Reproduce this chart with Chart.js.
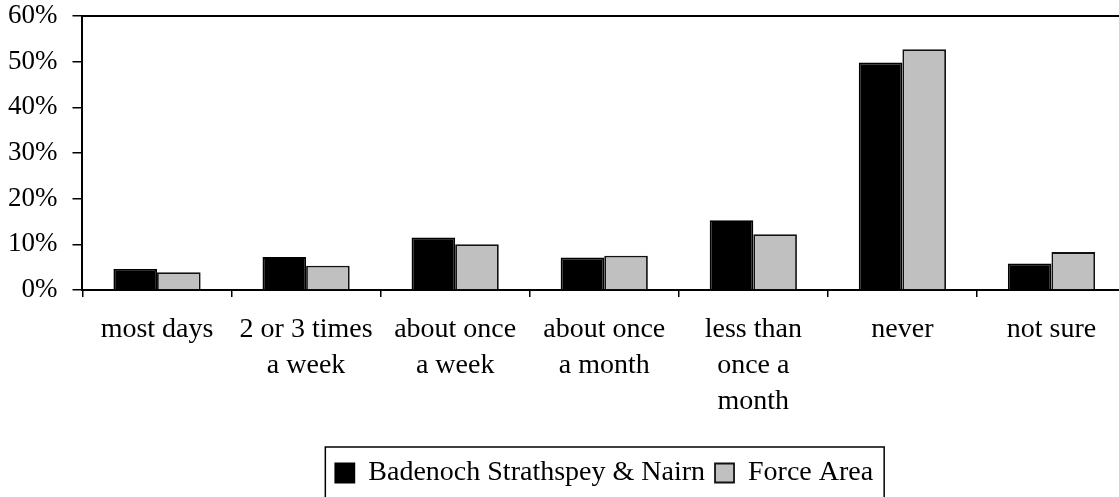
<!DOCTYPE html>
<html>
<head>
<meta charset="utf-8">
<script src="https://cdn.jsdelivr.net/npm/chart.js@4.4.1/dist/chart.umd.min.js"></script>
<style>
    html, body { margin: 0; padding: 0; background: #fff; overflow: hidden; }
    #wrap { width: 1126px; height: 497px; }
</style>
</head>
<body>
<div id="wrap"><canvas id="chart"></canvas></div>
<script>
var categories = [
    "most days",
    ["2 or 3 times", "a week"],
    ["about once", "a week"],
    ["about once", "a month"],
    ["less than", "once a", "month"],
    "never",
    "not sure"
]
var seriesNames = ["Badenoch Strathspey & Nairn", "Force Area"]
var badenochValues = [4.6, 7.2, 11.5, 7.1, 15.3, 49.8, 5.8]
var forceAreaValues = [3.9, 5.3, 10.0, 7.5, 12.2, 52.7, 8.3]
var yTicks = { min: 0, max: 60, step: 10 }

// top frame line + box round the legend
var framePlugin = {
    id: "frame",
    afterDraw: function(chart) {
        var ctx = chart.ctx
        var area = chart.chartArea
        ctx.save()
        ctx.strokeStyle = "#000"
        ctx.lineWidth = 2
        ctx.beginPath()
        ctx.moveTo(area.left, area.top)
        ctx.lineTo(area.right, area.top)
        ctx.stroke()

        var boxes = chart.legend.legendHitBoxes
        if (boxes && boxes.length) {
            var first = boxes[0]
            var last = boxes[boxes.length - 1]
            var left = first.left - 10
            var right = last.left + last.width + 11
            var top = chart.legend.top - 2
            ctx.lineWidth = 1.5
            ctx.strokeRect(left, top, right - left, chart.height + 10 - top)
        }
        ctx.restore()
    }
}

Chart.defaults.color = "#000"
Chart.defaults.font.family = "'Liberation Serif', 'Times New Roman', serif"

new Chart(document.getElementById("chart"), {
    type: "bar",
    data: {
        labels: categories,
        datasets: [
            {
                label: seriesNames[0],
                data: badenochValues,
                backgroundColor: "#000000",
                borderColor: "#000000",
                borderWidth: 1.8
            },
            {
                label: seriesNames[1],
                data: forceAreaValues,
                backgroundColor: "#c0c0c0",
                borderColor: "#111111",
                borderWidth: 1.8
            }
        ]
    },
    options: {
        animation: false,
        responsive: true,
        maintainAspectRatio: false,
        categoryPercentage: 0.585,
        barPercentage: 1.0,
        layout: { padding: 0 },
        scales: {
            x: {
                grid: { offset: true, drawOnChartArea: false, drawTicks: true, tickLength: 7, color: "#000", lineWidth: 1.5 },
                border: { display: true, color: "#000", width: 2 },
                ticks: { font: { size: 28, lineHeight: 1.2857 }, padding: 15, maxRotation: 0, autoSkip: false },
                afterFit: function(axis) { axis.height += 14 }
            },
            y: {
                min: yTicks.min,
                max: yTicks.max,
                grid: { drawOnChartArea: false, drawTicks: true, tickLength: 10, color: "#000", lineWidth: 1.5 },
                border: { display: true, color: "#000", width: 2 },
                ticks: {
                    stepSize: yTicks.step,
                    padding: 15,
                    font: { size: 27 },
                    callback: function(value) { return value + "%" }
                },
                afterFit: function(axis) {
                    axis.width -= 7
                    axis.paddingTop = 16
                }
            }
        },
        plugins: {
            legend: {
                position: "bottom",
                fullSize: false,
                labels: { boxWidth: 19, boxHeight: 19, padding: 10, font: { size: 28 }, color: "#000" }
            },
            tooltip: { enabled: false },
            title: { display: false }
        }
    },
    plugins: [framePlugin]
})
</script>
</body>
</html>
